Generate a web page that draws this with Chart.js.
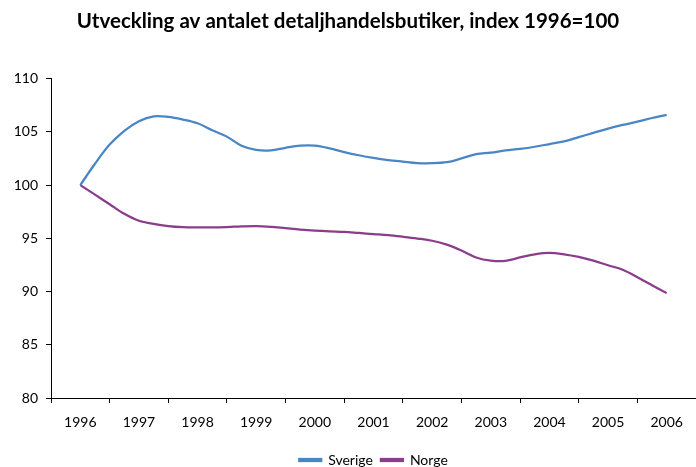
<!DOCTYPE html>
<html>
<head>
<meta charset="utf-8">
<script src="https://cdn.jsdelivr.net/npm/chart.js@4"></script>
<style>
html,body{margin:0;padding:0;background:#fff;}
#wrap{width:696px;height:467px;}
</style>
</head>
<body>
<div id="wrap"><canvas id="c" width="696" height="467"></canvas></div>
<script>
const chartTitle = 'Utveckling av antalet detaljhandelsbutiker, index 1996=100';
const years = ['1996','1997','1998','1999','2000','2001','2002','2003','2004','2005','2006'];
const yTicks = [80, 85, 90, 95, 100, 105, 110];
// quarterly index values, 1996 .. 2006
const sverige = [100.0,102.0,103.8,105.1,106.0,106.45,106.4,106.15,105.8,105.15,104.55,103.7,103.3,103.25,103.5,103.7,103.7,103.45,103.1,102.8,102.55,102.35,102.2,102.06,102.05,102.15,102.5,102.9,103.05,103.25,103.4,103.6,103.85,104.1,104.5,104.9,105.3,105.65,105.95,106.3,106.6];
const norge = [100.0,99.1,98.2,97.3,96.65,96.35,96.15,96.05,96.03,96.03,96.05,96.12,96.15,96.08,95.95,95.82,95.72,95.65,95.6,95.5,95.4,95.3,95.15,94.98,94.77,94.4,93.85,93.2,92.9,92.88,93.2,93.5,93.63,93.5,93.25,92.9,92.47,92.05,91.35,90.6,89.85];

const firstYear = Number(years[0]);
const toPoints = arr => arr.map((v, i) => ({x: firstYear + i / 4, y: v}));

const FONT = 'Lato, "Open Sans", sans-serif';

new Chart(document.getElementById('c'), {
  type: 'line',
  data: {
    datasets: [
      {label: 'Sverige', data: toPoints(sverige), borderColor: '#4A86C4', backgroundColor: '#4A86C4', borderWidth: 2.25, pointRadius: 0, tension: 0.35, fill: false},
      {label: 'Norge', data: toPoints(norge), borderColor: '#8B3D8C', backgroundColor: '#8B3D8C', borderWidth: 2.25, pointRadius: 0, tension: 0.35, fill: false}
    ]
  },
  options: {
    responsive: false,
    animation: false,
    devicePixelRatio: 1,
    layout: {padding: {left: 0, right: 0, top: 0, bottom: -10}},
    plugins: {
      title: {display: true, text: chartTitle, color: '#000', font: {family: FONT, size: 20.5, weight: 'bold'}, padding: {top: 9, bottom: 45}},
      legend: {
        position: 'bottom',
        fullSize: false,
        labels: {color: '#000', font: {family: FONT, size: 14, lineHeight: 1}, boxWidth: 22, boxHeight: 2, padding: 8}
      },
      tooltip: {enabled: false}
    },
    scales: {
      x: {
        type: 'linear',
        min: firstYear - 0.5,
        max: Number(years[years.length - 1]) + 0.5,
        afterBuildTicks: s => {
          const t = [];
          for (let i = 0; i <= years.length * 2; i++) t.push({value: firstYear - 0.5 + i * 0.5});
          s.ticks = t;
        },
        afterFit: s => { s.height = 47; s.paddingLeft = 0; s.paddingRight = 0; },
        ticks: {
          autoSkip: false, maxRotation: 0, color: '#000', padding: 11,
          font: {family: FONT, size: 14},
          callback: v => Number.isInteger(v) ? String(v) : ''
        },
        grid: {
          drawOnChartArea: false, drawTicks: true, tickLength: 5,
          color: ctx => (ctx.tick && Number.isInteger(ctx.tick.value)) ? 'rgba(0,0,0,0)' : '#000'
        },
        border: {display: true, color: '#000', width: 1}
      },
      y: {
        min: yTicks[0], max: yTicks[yTicks.length - 1],
        afterBuildTicks: s => { s.ticks = yTicks.map(v => ({value: v})); },
        afterFit: s => { s.width = 51; },
        ticks: {color: '#000', padding: 8, font: {family: FONT, size: 14}},
        grid: {drawOnChartArea: false, drawTicks: true, tickLength: 5, color: '#000'},
        border: {display: true, color: '#000', width: 1}
      }
    }
  }
});
</script>
</body>
</html>
